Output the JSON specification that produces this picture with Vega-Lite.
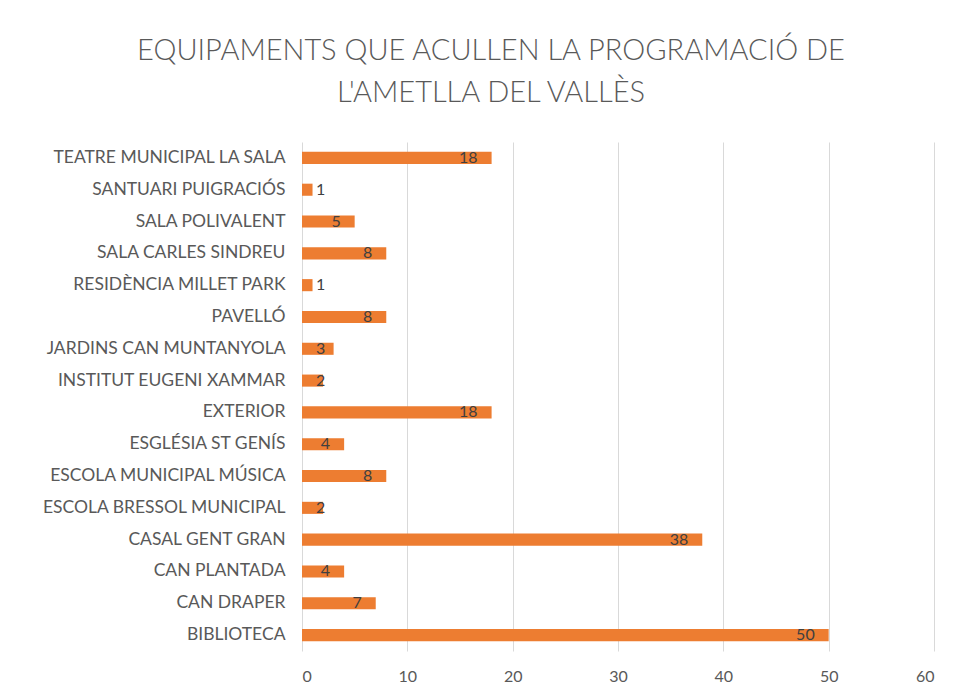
{
  "$schema": "https://vega.github.io/schema/vega-lite/v6.json",
  "width": 632,
  "height": 509,
  "padding": {"left": 0, "top": 37, "right": 20, "bottom": 5},
  "background": "white",
  "title": {
    "text": ["EQUIPAMENTS QUE ACULLEN LA PROGRAMACIÓ DE", "L'AMETLLA DEL VALLÈS"],
    "font": "Lato",
    "fontSize": 29,
    "fontWeight": 300,
    "lineHeight": 42,
    "color": "#595959",
    "anchor": "middle",
    "frame": "bounds",
    "baseline": "top",
    "dx": 24,
    "offset": 34
  },
  "data": {
    "values": [
      {"equipament": "TEATRE MUNICIPAL LA SALA", "value": 18},
      {"equipament": "SANTUARI PUIGRACIÓS", "value": 1},
      {"equipament": "SALA POLIVALENT", "value": 5},
      {"equipament": "SALA CARLES SINDREU", "value": 8},
      {"equipament": "RESIDÈNCIA MILLET PARK", "value": 1},
      {"equipament": "PAVELLÓ", "value": 8},
      {"equipament": "JARDINS CAN MUNTANYOLA", "value": 3},
      {"equipament": "INSTITUT EUGENI XAMMAR", "value": 2},
      {"equipament": "EXTERIOR", "value": 18},
      {"equipament": "ESGLÉSIA ST GENÍS", "value": 4},
      {"equipament": "ESCOLA MUNICIPAL MÚSICA", "value": 8},
      {"equipament": "ESCOLA BRESSOL MUNICIPAL", "value": 2},
      {"equipament": "CASAL GENT GRAN", "value": 38},
      {"equipament": "CAN PLANTADA", "value": 4},
      {"equipament": "CAN DRAPER", "value": 7},
      {"equipament": "BIBLIOTECA", "value": 50}
    ]
  },
  "encoding": {
    "y": {
      "field": "equipament",
      "type": "nominal",
      "sort": null,
      "scale": {"paddingInner": 0.62, "paddingOuter": 0.31},
      "axis": {
        "title": null,
        "domain": false,
        "ticks": false,
        "grid": false,
        "labelFont": "Lato",
        "labelFontSize": 17.5,
        "labelColor": "#595959",
        "labelPadding": 17,
        "labelLimit": 400,
        "minExtent": 302,
        "maxExtent": 302
      }
    }
  },
  "layer": [
    {
      "mark": {"type": "bar", "color": "#ED7D31"},
      "encoding": {
        "x": {
          "field": "value",
          "type": "quantitative",
          "scale": {"domain": [0, 60], "nice": false},
          "axis": {
            "title": null,
            "values": [0, 10, 20, 30, 40, 50, 60],
            "domain": false,
            "ticks": false,
            "grid": true,
            "gridColor": "#d9d9d9",
            "labelFont": "Lato",
            "labelFontSize": 16,
            "labelColor": "#595959",
            "labelPadding": 17
          }
        }
      }
    },
    {
      "transform": [{"filter": "datum.value >= 4"}],
      "mark": {"type": "text", "align": "right", "baseline": "middle", "dx": -14, "font": "Lato", "fontSize": 16, "color": "#404040"},
      "encoding": {
        "x": {"field": "value", "type": "quantitative"},
        "text": {"field": "value", "type": "quantitative"}
      }
    },
    {
      "transform": [{"filter": "datum.value < 4"}],
      "mark": {"type": "text", "align": "left", "baseline": "middle", "dx": 14, "font": "Lato", "fontSize": 16, "color": "#404040"},
      "encoding": {
        "x": {"datum": 0, "type": "quantitative"},
        "text": {"field": "value", "type": "quantitative"}
      }
    }
  ],
  "config": {"view": {"stroke": null}}
}
